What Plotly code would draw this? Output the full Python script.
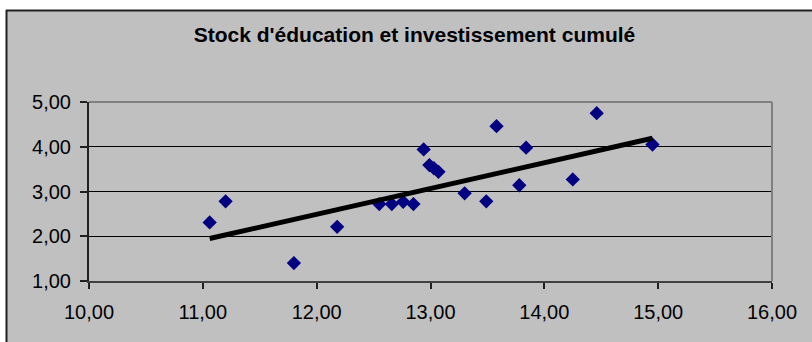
import plotly.graph_objects as go

# Stock d'éducation (x) vs investissement cumulé (y)
stock_education = [11.06, 11.20, 11.80, 12.18, 12.55, 12.66, 12.76, 12.85, 12.94,
                   12.99, 13.03, 13.07, 13.30, 13.49, 13.58, 13.78, 13.84, 14.25,
                   14.46, 14.95]
investissement = [2.31, 2.78, 1.40, 2.21, 2.72, 2.72, 2.77, 2.72, 3.94,
                  3.59, 3.52, 3.44, 2.96, 2.78, 4.46, 3.14, 3.98, 3.27,
                  4.75, 4.05]
# linear trend line end points
trend_x = [11.06, 14.95]
trend_y = [1.95, 4.19]
x_ticks = [10, 11, 12, 13, 14, 15, 16]
y_ticks = [1, 2, 3, 4, 5]
title_text = "Stock d'éducation et investissement cumulé"


def fr(v):
    return f"{v:.2f}".replace(".", ",")


W, H = 812, 342
ML, MR, MT, MB = 89, 40, 102, 61
PW, PH = W - ML - MR, H - MT - MB


def px_x(p):
    return (p - ML) / PW


def px_y(p):
    return 1 - (p - MT) / PH


FONT = "Liberation Sans, Arial, sans-serif"

fig = go.Figure()
fig.add_trace(go.Scatter(
    x=stock_education, y=investissement, mode="markers",
    marker=dict(symbol="diamond", size=11, color="#000080"),
    showlegend=False, cliponaxis=False,
))
fig.add_trace(go.Scatter(
    x=trend_x, y=trend_y, mode="lines",
    line=dict(color="#000000", width=5),
    showlegend=False,
))

shapes = [
    # white margin above and left of the chart frame
    dict(type="rect", xref="paper", yref="paper", layer="below",
         x0=px_x(-5), x1=px_x(W + 5), y0=px_y(10), y1=px_y(-5),
         fillcolor="white", line=dict(width=0)),
    dict(type="rect", xref="paper", yref="paper", layer="below",
         x0=px_x(-5), x1=px_x(6), y0=px_y(H + 5), y1=px_y(-5),
         fillcolor="white", line=dict(width=0)),
    # chart frame
    dict(type="line", xref="paper", yref="paper",
         x0=px_x(6), x1=px_x(W + 5), y0=px_y(10.5), y1=px_y(10.5),
         line=dict(color="#202020", width=2)),
    dict(type="line", xref="paper", yref="paper",
         x0=px_x(6.5), x1=px_x(6.5), y0=px_y(10), y1=px_y(H + 5),
         line=dict(color="#202020", width=2)),
    # plot area border (top and right in grey)
    dict(type="line", xref="paper", yref="paper",
         x0=0, x1=1, y0=1, y1=1, line=dict(color="#808080", width=2)),
    dict(type="line", xref="paper", yref="paper",
         x0=1, x1=1, y0=0, y1=1, line=dict(color="#808080", width=2)),
]

fig.update_layout(
    width=W, height=H,
    margin=dict(l=ML, r=MR, t=MT, b=MB, autoexpand=False),
    paper_bgcolor="#C0C0C0", plot_bgcolor="#C0C0C0",
    font=dict(family=FONT, size=20, color="#000000"),
    title=dict(text=f"<b>{title_text}</b>", x=px_x(414.5), xanchor="center",
               xref="paper", y=1 - 35 / H, yanchor="middle",
               font=dict(family=FONT, size=21, color="#000000")),
    shapes=shapes,
    xaxis=dict(range=[10, 16], tickvals=x_ticks, ticktext=[fr(v) for v in x_ticks],
               showgrid=False, zeroline=False, showline=True, linecolor="#404040",
               linewidth=2, ticks="outside", ticklen=6, tickcolor="#202020",
               tickwidth=1.5, ticklabelstandoff=6, automargin=False),
    yaxis=dict(range=[1, 5], tickvals=y_ticks, ticktext=[fr(v) for v in y_ticks],
               showgrid=True, gridcolor="#000000", gridwidth=1, zeroline=False,
               showline=True, linecolor="#202020", linewidth=2, ticks="outside",
               ticklen=7, tickcolor="#202020", tickwidth=1.5,
               ticklabelstandoff=5, automargin=False),
)

fig.write_html("out.html")
